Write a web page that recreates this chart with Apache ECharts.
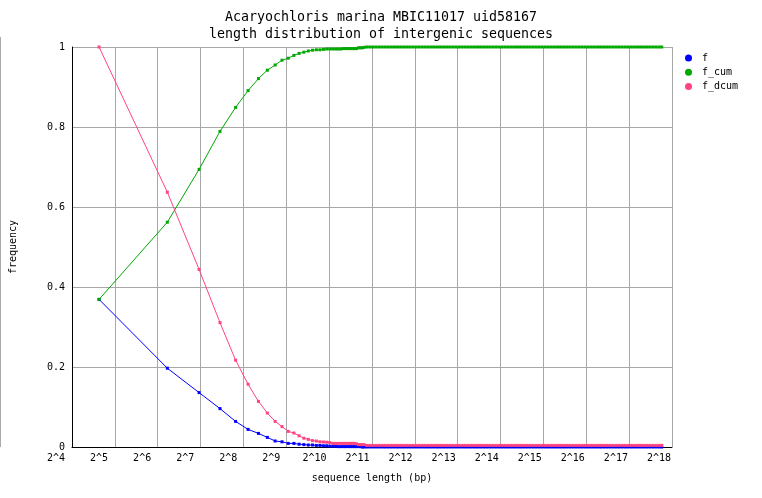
<!DOCTYPE html>
<html>
<head>
<meta charset="utf-8">
<script src="https://cdn.jsdelivr.net/npm/echarts@6/dist/echarts.min.js"></script>
<style>html,body{margin:0;padding:0;background:#fff}#c{width:762px;height:498px}</style>
</head>
<body>
<div id="c"></div>
<script>
// sequence lengths (bp) of the plotted points
const lengths = [32,96,160,224,288,352,416,480,544,608,672,736,800,864,928,992,1056,1120,1184,1248,1312,1376,1440,1504,1568,1632,1696,1760,1824,1888,1952,2016,2080,2144,2208,2272,
2376,2497,2623,2756,2896,3043,3198,3360,3531,3710,3898,
4096,4304,4522,4752,4993,5247,5513,5793,6086,6396,6720,7061,7420,7796,
8192,8608,9045,9504,9986,10493,11026,11585,12173,12791,13440,14123,14839,15593,
16384,17216,18090,19008,19972,20986,22051,23170,24346,25582,26881,28245,29679,31185,
32768,34432,36179,38016,39945,41972,44102,46341,48693,51165,53761,56490,59357,62371,
65536,68864,72358,76032,79889,83944,88205,92682,97386,102330,107522,112980,118714,124741,
131072,137727,144716,152064,159778,167888,176410,185364,194773,204660,215044,225960,237428,249483,
262144,274000];

const f = [0.369,0.197,0.136,0.096,0.064,0.044,0.034,0.024,0.015,0.013,0.009,0.009,0.007,0.006,0.005,0.005,0.004,0.004,0.003,0.003,0.002,0.002,0.002,0.001,0.001,0.001,0.001,0.001,0.001,0.001,0.001,0.001,0.001,0.001,0,0,
0,0,0,0,0,0,0,0,0,0,0,
0,0,0,0,0,0,0,0,0,0,0,0,0,0,
0,0,0,0,0,0,0,0,0,0,0,0,0,0,
0,0,0,0,0,0,0,0,0,0,0,0,0,0,
0,0,0,0,0,0,0,0,0,0,0,0,0,0,
0,0,0,0,0,0,0,0,0,0,0,0,0,0,
0,0,0,0,0,0,0,0,0,0,0,0,0,0,
0,0];

const f_cum = [0.369,0.562,0.694,0.789,0.849,0.891,0.921,0.942,0.955,0.967,0.972,0.979,0.984,0.987,0.990,0.992,0.993,0.993,0.994,0.995,0.995,0.995,0.995,0.995,0.995,0.996,0.996,0.996,0.996,0.996,0.996,0.996,0.998,0.998,0.998,0.999,
1,1,1,1,1,1,1,1,1,1,1,
1,1,1,1,1,1,1,1,1,1,1,1,1,1,
1,1,1,1,1,1,1,1,1,1,1,1,1,1,
1,1,1,1,1,1,1,1,1,1,1,1,1,1,
1,1,1,1,1,1,1,1,1,1,1,1,1,1,
1,1,1,1,1,1,1,1,1,1,1,1,1,1,
1,1,1,1,1,1,1,1,1,1,1,1,1,1,
1,1];

const f_dcum = [1.0,0.637,0.444,0.311,0.217,0.157,0.114,0.085,0.064,0.051,0.039,0.035,0.028,0.022,0.019,0.016,0.015,0.013,0.0125,0.012,0.011,0.009,0.009,0.009,0.009,0.009,0.009,0.009,0.009,0.009,0.009,0.008,0.006,0.006,0.006,0.006,
0.004,0.004,0.004,0.004,0.004,0.004,0.004,0.004,0.004,0.004,0.004,
0.004,0.004,0.004,0.004,0.004,0.004,0.004,0.004,0.004,0.004,0.004,0.004,0.004,0.004,
0.004,0.004,0.004,0.004,0.004,0.004,0.004,0.004,0.004,0.004,0.004,0.004,0.004,0.004,
0.004,0.004,0.004,0.004,0.004,0.004,0.004,0.004,0.004,0.004,0.004,0.004,0.004,0.004,
0.004,0.004,0.004,0.004,0.004,0.004,0.004,0.004,0.004,0.004,0.004,0.004,0.004,0.004,
0.004,0.004,0.004,0.004,0.004,0.004,0.004,0.004,0.004,0.004,0.004,0.004,0.004,0.004,
0.004,0.004,0.004,0.004,0.004,0.004,0.004,0.004,0.004,0.004,0.004,0.004,0.004,0.004,
0.004,0.004];

const xTickExponents = [4,5,6,7,8,9,10,11,12,13,14,15,16,17,18];
const yTicks = [0,0.2,0.4,0.6,0.8,1];
const seriesNames = ['f','f_cum','f_dcum'];
const seriesColors = ['#0000ff','#00a800','#ff4480'];
const titleLines = ['Acaryochloris marina MBIC11017 uid58167','length distribution of intergenic sequences'];

const FONT = 'DejaVu Sans Mono';
const chart = echarts.init(document.getElementById('c'), null, {renderer:'canvas'});

function toPairs(vals){ return lengths.map((L,i)=>[Math.log2(L), vals[i]]); }
const allVals = [f, f_cum, f_dcum];

const option = {
  animation:false,
  backgroundColor:'#ffffff',
  title:{
    text: titleLines.join('\n'),
    left:'center', top:9, padding:0,
    textStyle:{fontFamily:FONT, fontSize:13.3, fontWeight:'normal', color:'#000', lineHeight:17}
  },
  legend:{
    orient:'vertical', left:680, top:48,
    itemWidth:7, itemHeight:7, itemGap:4.3,
    icon:'circle',
    textStyle:{fontFamily:FONT, fontSize:10, color:'#000', lineHeight:10, padding:[0,0,0,5]},
    data: seriesNames
  },
  graphic:[{type:'rect', shape:{x:0,y:37,width:1,height:410}, style:{fill:'#aaaaaa'}, silent:true}],
  grid:[
    {left:72, right:90, top:47, bottom:51},
    {left:56, right:90, top:47, bottom:51}
  ],
  xAxis:[
    {gridIndex:0, type:'value', min:0, max:14, interval:1,
     name:'sequence length (bp)', nameLocation:'middle', nameGap:26,
     nameTextStyle:{fontFamily:FONT, fontSize:10, color:'#000'},
     axisLine:{show:true, onZero:false, lineStyle:{color:'#000', width:1}},
     axisTick:{show:false}, axisLabel:{show:false},
     splitLine:{show:true, lineStyle:{color:'#a8a8a8', width:1}}},
    {gridIndex:1, type:'value', min:xTickExponents[0], max:4+616/43.07, interval:1,
     axisLine:{show:false}, axisTick:{show:false}, splitLine:{show:false},
     axisLabel:{show:true, margin:6, fontFamily:FONT, fontSize:10, color:'#000',
       formatter:v=> xTickExponents.indexOf(v)>=0 ? '2^'+v : ''}}
  ],
  yAxis:[
    {gridIndex:0, type:'value', min:yTicks[0], max:yTicks[yTicks.length-1], interval:0.2,
     name:'frequency', nameLocation:'middle', nameGap:54, nameRotate:90,
     nameTextStyle:{fontFamily:FONT, fontSize:10, color:'#000'},
     axisLine:{show:true, onZero:false, lineStyle:{color:'#000', width:1}},
     axisTick:{show:false},
     axisLabel:{margin:7, fontFamily:FONT, fontSize:10, color:'#000'},
     splitLine:{show:true, lineStyle:{color:'#a8a8a8', width:1}}},
    {gridIndex:1, type:'value', min:0, max:1, show:false}
  ],
  series: seriesNames.map((n,i)=>({
    name:n, type:'line', xAxisIndex:1, yAxisIndex:1,
    data: toPairs(allVals[i]),
    symbol:'rect', symbolSize:3, showSymbol:true, clip:false,
    color: seriesColors[i],
    lineStyle:{width:1, color:seriesColors[i]},
    itemStyle:{color:seriesColors[i]},
    emphasis:{disabled:true}
  }))
};
chart.setOption(option);
</script>
</body>
</html>
